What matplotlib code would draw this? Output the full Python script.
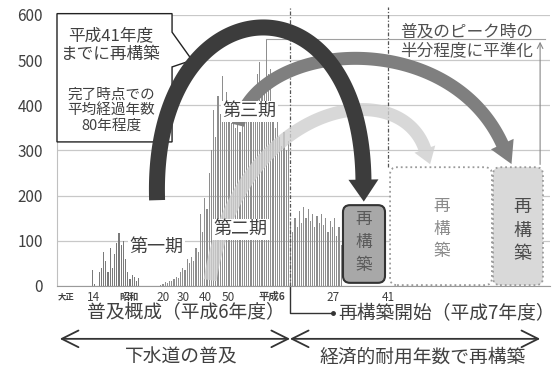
import numpy as np
import matplotlib
matplotlib.use("Agg")
import matplotlib.pyplot as plt
from matplotlib.patches import Polygon, FancyBboxPatch
from matplotlib.transforms import IdentityTransform

plt.rcParams['font.family'] = ['Noto Sans CJK JP', 'DejaVu Sans']

# 管路整備延長（km/年）
early_years = np.arange(1913, 1935)
early_km = [35, 5, 0, 30, 40, 75, 55, 30, 85, 40, 70, 95, 118, 90, 100, 60,
            30, 15, 25, 20, 10, 18]

main_years = np.arange(1944, 2027)
main_km = [3, 5, 8, 6, 10, 12, 15, 20, 18, 30,
           40, 35, 60, 50, 65, 55, 85, 75, 160, 120,
           195, 170, 250, 300, 390, 330, 420, 380, 465, 400,
           430, 380, 360, 400, 350, 380, 340, 390, 360, 400,
           370, 420, 380, 440, 470, 495, 430, 460, 547, 470,
           480, 400, 350, 380, 330, 310, 340, 300, 320, 140,
           120, 150, 130, 165, 140, 175, 150, 170, 145, 160,
           130, 155, 140, 160, 135, 150, 120, 145, 130, 150,
           110, 130, 90]

tick_pos = [1900.9, 1913.2, 1929.5, 1945, 1954.1, 1964.1, 1974.5, 1994.5, 2022.3, 2047.3]
tick_lab = ['大正', '14', '昭和', '20', '30', '40', '50', '平成6', '27', '41']
tick_size = [6, 8.5, 7, 8.5, 8.5, 8.5, 8.5, 7.5, 8.5, 8.5]

start_year = 2002.7   # 平成7年度 再構築開始
target_year = 2047.3  # 平成41年度

TXT = '#404040'

fig = plt.figure(figsize=(5.54, 3.68), dpi=100)
ax = fig.add_axes([57/554, 82/368, 493/554, 271/368])
ax.set_xlim(1896.8, 2120.9)
ax.set_ylim(0, 600)

ax.bar(early_years, early_km, width=0.55, color='#7a7a7a', zorder=2)
ax.bar(main_years, main_km, width=0.55, color='#8e8e8e', zorder=2)

ax.set_yticks(range(0, 601, 100))
ax.grid(axis='y', color='#c8c8c8', lw=0.9)
ax.set_axisbelow(True)
for s in ['top', 'right']:
    ax.spines[s].set_visible(False)
ax.spines['left'].set_color('#c0c0c0')
ax.spines['bottom'].set_color('#9a9a9a')
ax.tick_params(axis='y', length=0, pad=10, labelsize=11, labelcolor=TXT)
ax.set_xticks(tick_pos, tick_lab)
ax.tick_params(axis='x', length=0, pad=8, labelcolor=TXT)
for lbl, fs in zip(ax.get_xticklabels(), tick_size):
    lbl.set_fontsize(fs)
    lbl.set_va('center')
    if fs < 8:
        lbl.set_fontweight('bold')


def bent_arrow(ctrl, width, head_w, head_l, color, alpha=1.0, z=5):
    c = ax.transData.transform(np.array(ctrl, float))
    t = np.linspace(0, 1, 400)[:, None]
    pts = ((1 - t)**3 * c[0] + 3 * (1 - t)**2 * t * c[1]
           + 3 * (1 - t) * t**2 * c[2] + t**3 * c[3])
    dist = np.concatenate([[0], np.cumsum(np.hypot(*np.diff(pts, axis=0).T))])
    body = pts[dist <= dist[-1] - head_l]
    tang = np.gradient(body, axis=0)
    tang /= np.hypot(tang[:, 0], tang[:, 1])[:, None]
    nrm = np.column_stack([-tang[:, 1], tang[:, 0]]) * width / 2
    d = tang[-1]
    n = np.array([-d[1], d[0]]) * head_w / 2
    base = body[-1]
    tip = base + d * head_l
    outline = np.vstack([body + nrm, [base + n, tip, base - n], (body - nrm)[::-1]])
    ax.add_patch(Polygon(outline, closed=True, transform=IdentityTransform(),
                         facecolor=color, edgecolor='none', alpha=alpha,
                         zorder=z, clip_on=False))


def box(x0, x1, y0, y1, z=4, **kw):
    (a, b), (c, d) = ax.transData.transform([(x0, y0), (x1, y1)])
    ax.add_patch(FancyBboxPatch((a, b), c - a, d - b, transform=IdentityTransform(),
                                boxstyle='round,pad=0,rounding_size=7',
                                zorder=z, clip_on=False, **kw))


# 再構築の箱
box(2026.8, 2045.9, 7, 179, facecolor='#a8a8a8', edgecolor='#333333', lw=1.5, z=6)
box(2048.2, 2094.5, 2, 263, facecolor='white', edgecolor='#9a9a9a', lw=1.3, ls=':', z=4)
box(2095.0, 2117.7, 2, 263, facecolor='#d9d9d9', edgecolor='#9a9a9a', lw=1.3, ls=':', z=4)
ax.text(2036.4, 97, '再\n構\n築', ha='center', va='center', fontsize=12,
        color='#5a5a5a', linespacing=1.45, zorder=7)
ax.text(2071.8, 126, '再\n構\n築', ha='center', va='center', fontsize=12,
        color='#8a8a8a', linespacing=1.45, zorder=7)
ax.text(2108.2, 122, '再\n構\n築', ha='center', va='center', fontsize=13,
        color='#4a4a4a', linespacing=1.4, zorder=7)

# 区切りの点線
ax.plot([start_year, start_year], [0, 615], color='#555555', lw=0.9,
        ls=(0, (3, 1.5, 1, 1.5)), clip_on=False, zorder=3)
ax.plot([target_year, target_year], [263, 617], color='#555555', lw=0.9,
        ls=(0, (3, 1.5, 1, 1.5)), clip_on=False, zorder=3)

# ピーク水準
peak = max(main_km)
peak_year = main_years[int(np.argmax(main_km))]
ax.plot([peak_year, 2118.6], [peak, peak], color='#a0a0a0', lw=0.8, zorder=3)
ax.annotate('', xy=(2116.4, peak), xytext=(2116.4, 263),
            arrowprops=dict(arrowstyle='->', color='#888888', lw=0.8), zorder=3)

# 矢印
bent_arrow([(1966.4, 13), (1980, 434), (2061.8, 478), (2065.5, 268)],
           13, 22, 16, '#cfcfcf', alpha=0.8, z=3)
bent_arrow([(1979.1, 356), (1989.1, 556), (2084.5, 578), (2102.7, 268)],
           13, 25, 22, '#7f7f7f', z=4)
bent_arrow([(1942.3, 190), (1939, 690), (2041.4, 711), (2035.9, 186)],
           16, 30, 22, '#3c3c3c', z=6)

# 吹き出し
callout = [(1896.8, 603), (1949.1, 603), (1949.1, 562), (1958.2, 500),
           (1949.1, 485), (1949.1, 319), (1896.8, 319)]
ax.add_patch(Polygon(callout, closed=True, facecolor='white', edgecolor='#222222',
                     lw=1.0, zorder=5.5, clip_on=False))
ax.text(1921.4, 534, '平成41年度\nまでに再構築', ha='center', va='center',
        fontsize=12, color=TXT, linespacing=1.15, zorder=7)
ax.text(1921.4, 390, '完了時点での\n平均経過年数\n80年程度', ha='center', va='center',
        fontsize=10.5, color=TXT, linespacing=1.15, zorder=7)

# 期の名前
lab_box = dict(facecolor='white', edgecolor='none', pad=1)
ax.text(1942, 87, '第一期', ha='center', va='center', fontsize=13, color=TXT,
        bbox=lab_box, zorder=7)
ax.text(1980.2, 126, '第二期', ha='center', va='center', fontsize=13, color=TXT,
        bbox=lab_box, zorder=7)
ax.text(1984.3, 387, '第三期', ha='center', va='center', fontsize=13, color=TXT,
        bbox=lab_box, zorder=7)

ax.text(2083, 542, '普及のピーク時の\n半分程度に平準化', ha='center', va='center',
        fontsize=12, color='#505050', linespacing=1.1, zorder=7)

# 軸の下の説明
ax.text(1955.5, -60, '普及概成（平成6年度）', ha='center', va='center',
        fontsize=13.5, color=TXT)
ax.text(2074, -62, '再構築開始（平成7年度）', ha='center', va='center',
        fontsize=13.5, color=TXT)
ax.plot([start_year, start_year, 2022.3], [0, -60, -60], color='#333333',
        lw=1.0, clip_on=False)
ax.plot([2022.3], [-60], 'o', color='#333333', ms=2.5, clip_on=False)

arr = dict(arrowstyle='<->,head_length=1.2,head_width=0.6', color='#333333',
           lw=1.3, mutation_scale=10)
ax.annotate('', xy=(1896.8, -117), xytext=(2004, -117), arrowprops=arr,
            annotation_clip=False)
ax.annotate('', xy=(2001.4, -117), xytext=(2117.7, -117), arrowprops=arr,
            annotation_clip=False)
ax.text(1953.4, -157, '下水道の普及', ha='center', va='center', fontsize=13.5, color=TXT)
ax.text(2063.2, -157, '経済的耐用年数で再構築', ha='center', va='center',
        fontsize=13.5, color=TXT)

fig.savefig('out.png', dpi=100)
